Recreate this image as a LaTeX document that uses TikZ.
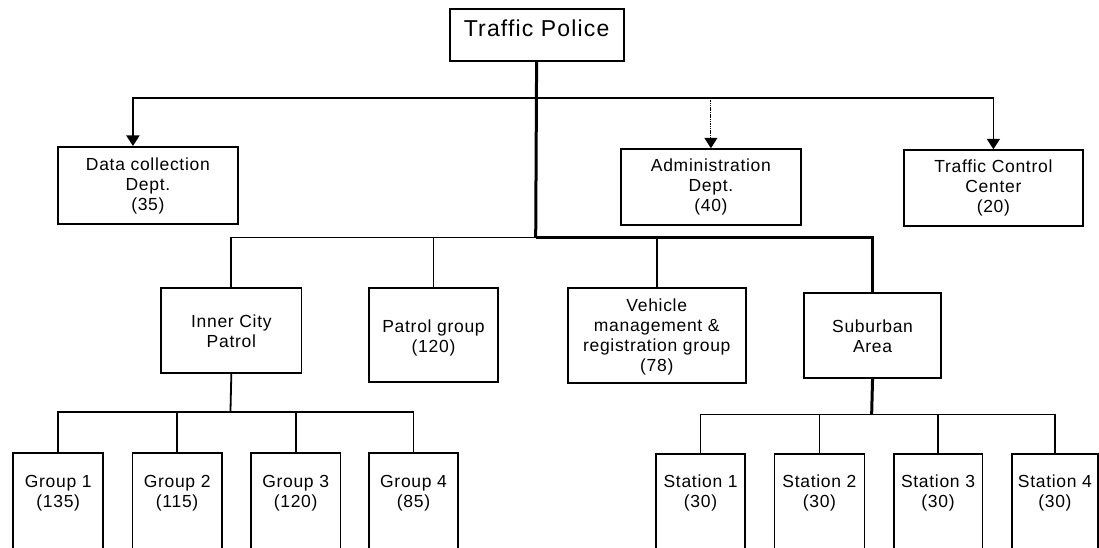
\documentclass[tikz,border=0pt]{standalone}
\usepackage{fontspec}
\setmainfont{Liberation Sans}[LetterSpace=4]
\newfontfamily\headfont{Liberation Sans}[LetterSpace=5]
\usetikzlibrary{arrows.meta,calc}
% box content: width, height, distance from top to first baseline, text
\newcommand\boxtext[4]{\parbox[t][#2pt][t]{#1pt}{\centering\rule{0pt}{#3pt}#4}}
\begin{document}
\begin{tikzpicture}[x=1pt,y=-1pt,
  box/.style={draw, line width=1.8pt, inner sep=0pt, anchor=north west,
              font=\fontsize{17.5}{20}\selectfont},
  wire/.style={line width=1.8pt},
  trunk/.style={line width=3pt},
  tip/.style={-{Triangle[width=13pt,length=10.5pt]}},
  faint/.style={line width=1.1pt, dash pattern=on 1.5pt off 0.8pt}]
\useasboundingbox (0,0) rectangle (1099,548);
\clip (0,0) rectangle (1099,548);

% top level
\node[box, font=\headfont\fontsize{23}{26}\selectfont] (tp) at (448.7,8)
  {\boxtext{174}{52}{28}{Traffic Police}};

% departments
\node[box] (data)  at (57.2,146)    {\boxtext{179.6}{76.7}{23.3}{Data collection\\Dept.\\(35)}};
\node[box] (admin) at (620.2,148.3) {\boxtext{179.6}{75.7}{22.4}{Administration\\Dept.\\(40)}};
\node[box] (tcc)   at (903.3,149.3) {\boxtext{178.4}{75.7}{22.4}{Traffic Control\\Center\\(20)}};

% operational units
\node[box] (icp) at (160.3,287.3) {\boxtext{140.3}{84.4}{39.4}{Inner City\\Patrol}};
\node[box] (pg)  at (368.3,287.3) {\boxtext{128.7}{93.4}{44.4}{Patrol group\\(120)}};
\node[box] (veh) at (566.7,287.3) {\boxtext{178.3}{94.4}{23.7}{Vehicle\\management \&\\registration group\\(78)}};
\node[box] (sub) at (803.3,292.3) {\boxtext{136.7}{84.4}{39.4}{Suburban\\Area}};

% inner city groups
\node[box] (g1) at (12.3,452)  {\boxtext{90.1}{130}{34.7}{Group 1\\(135)}};
\node[box] (g2) at (131.5,452) {\boxtext{89.5}{130}{34.7}{Group 2\\(115)}};
\node[box] (g3) at (250,452)   {\boxtext{89.5}{130}{34.7}{Group 3\\(120)}};
\node[box] (g4) at (368.3,452) {\boxtext{88.7}{130}{34.7}{Group 4\\(85)}};

% suburban stations
\node[box] (s1) at (654.9,453.3) {\boxtext{89.5}{130}{33.4}{Station 1\\(30)}};
\node[box] (s2) at (773.5,453.3) {\boxtext{90.1}{130}{33.4}{Station 2\\(30)}};
\node[box] (s3) at (892.7,453.3) {\boxtext{88.8}{130}{33.4}{Station 3\\(30)}};
\node[box] (s4) at (1011,453.3)  {\boxtext{86}{130}{33.4}{Station 4\\(30)}};

% junctions on the bus lines
\coordinate (j1) at (535.7,98);
\coordinate (j2) at (535.7,237.5);
\coordinate (j3) at (230.45,412.3);
\coordinate (j4) at (871.65,414.5);
\coordinate (dtip) at ($(data.north west)!0.4176!(data.north east)$);

% main trunk
\draw[trunk] (tp.south) -- (j2);

% departments bus
\draw[wire,tip] (j1) -| (dtip);
\draw[wire,tip] (j1) -| (tcc.north);
\draw[faint,tip] (admin.north |- j1) -- (admin.north);

% units bus
\draw[wire] (j2) -| (icp.north);
\draw[trunk] (j2) -| (sub.north);
\draw[wire] (pg.north |- j2) -- (pg.north);
\draw[wire] (veh.north |- j2) -- (veh.north);

% inner city groups bus
\draw[wire] (icp.south) -- (j3);
\draw[wire] (g1.north) |- (j3) -| (g4.north);
\draw[wire] (g2.north |- j3) -- (g2.north);
\draw[wire] (g3.north |- j3) -- (g3.north);

% stations bus
\draw[trunk] (sub.south) -- (j4);
\draw[wire] (s1.north) |- (j4) -| (s4.north);
\draw[wire] (s2.north |- j4) -- (s2.north);
\draw[wire] (s3.north |- j4) -- (s3.north);
\end{tikzpicture}
\end{document}
